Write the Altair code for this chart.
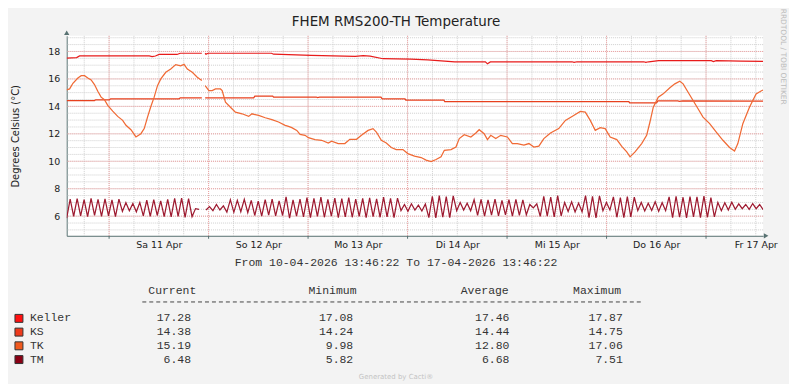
import altair as alt
import pandas as pd

# ---------------- texts ----------------
TITLE = "FHEM RMS200-TH Temperature"
Y_TITLE = "Degrees Celsius (°C)"
PERIOD = "From 10-04-2026 13:46:22 To 17-04-2026 13:46:22"
WATERMARK = "RRDTOOL / TOBI OETIKER"
FOOTER = "Generated by Cacti®"

SERIES = ["Keller", "KS", "TK", "TM"]
LINE_COLORS = ["#E81B1B", "#E8401E", "#F06A35", "#9E1A30"]
SWATCH_COLORS = ["#FF1010", "#EE3A1C", "#F05A1E", "#8A0014"]

HEADERS = ["Current", "Minimum", "Average", "Maximum"]
CURRENT = ["17.28", "14.38", "15.19", "6.48"]
MINIMUM = ["17.08", "14.24", "9.98", "5.82"]
AVERAGE = ["17.46", "14.44", "12.80", "6.68"]
MAXIMUM = ["17.87", "14.75", "17.06", "7.51"]

# x axis: hours since 10-04-2026 13:46:22 (7 days = 168 h)
DAY_LABELS = ["Sa 11 Apr", "So 12 Apr", "Mo 13 Apr", "Di 14 Apr", "Mi 15 Apr", "Do 16 Apr", "Fr 17 Apr"]
X_MAJOR = [10.227, 34.227, 58.227, 82.227, 106.227, 130.227, 154.227]          # midnights
X_LABEL_POS = [22.227, 46.227, 70.227, 94.227, 118.227, 142.227, 166.227]      # noons
X_MINOR = [4.227 + 6 * k for k in range(28)]                                  # every 6 h
Y_LABELS = [6, 8, 10, 12, 14, 16, 18]
Y_MINOR = [5 + 0.5 * k for k in range(29)]

# ---------------- series ----------------
KELLER_H = [0, 2.4, 3.1, 19.9, 20.6, 21.4, 22.3, 26.6, 27.4, 32.6, 33.0, 33.4, 33.6, 34.1, 49.4, 49.9,
            59.0, 69.6, 71.5, 73.2, 76.3, 83.0, 87.1, 93.6, 101.0, 101.5, 102.2, 121.9, 122.4, 123.1,
            139.2, 139.7, 140.4, 142.8, 155.5, 156.0, 156.7, 162.7, 168.0]
KELLER_V = [17.52, 17.55, 17.67, 17.67, 17.62, 17.67, 17.78, 17.78, 17.87, 17.87, None, 17.87, 17.80,
            17.87, 17.87, 17.80, 17.72, 17.64, 17.70, 17.66, 17.47, 17.45, 17.38, 17.25, 17.25, 17.10,
            17.24, 17.25, 17.20, 17.25, 17.25, 17.20, 17.25, 17.33, 17.33, 17.27, 17.33, 17.30, 17.28]

KS_H = [0, 6.7, 7.0, 10.3, 10.6, 27.1, 27.4, 32.6, 33.0, 33.4, 45.1, 45.4, 49.7, 49.9, 60.2, 60.5, 61.0,
        75.8, 76.1, 81.6, 81.8, 91.0, 91.2, 135.6, 135.8, 142.3, 142.6, 147.4, 147.8, 148.6, 168.0]
KS_V = [14.42, 14.42, 14.48, 14.48, 14.55, 14.55, 14.62, 14.62, None, 14.62, 14.62, 14.75, 14.75, 14.68,
        14.68, 14.64, 14.68, 14.68, 14.55, 14.55, 14.45, 14.45, 14.35, 14.35, 14.25, 14.25, 14.40, 14.40,
        14.36, 14.40, 14.38]

TK_H = [0, 0.7, 1.5, 2.7, 3.5, 4.3, 5.1, 5.9, 6.7, 7.5,
        8.3, 9.1, 9.9, 11.1, 12.3, 13.5, 14.3, 15.5, 16.7, 17.9,
        18.7, 19.5, 20.3, 21.1, 21.9, 22.7, 23.9, 25.1, 26.3, 27.5,
        28.3, 29.1, 30.3, 31.5, 32.6, 33.0, 33.4, 34.3, 35.1, 35.9,
        37.1, 37.5, 38.3, 39.5, 40.7, 42.3, 43.9, 44.7, 46.3, 47.9,
        49.5, 51.1, 52.7, 53.5, 54.3, 55.5, 56.3, 57.5, 58.3, 59.9,
        61.5, 63.1, 63.9, 65.5, 67.1, 68.3, 69.9, 71.1, 72.7, 73.9,
        74.7, 75.9, 77.1, 78.3, 79.5, 81.1, 82.3, 83.9, 85.5, 86.7,
        87.9, 89.1, 90.3, 91.1, 92.7, 93.9, 94.7, 95.9, 97.5, 98.7,
        99.5, 100.7, 101.5, 102.3, 103.5, 104.7, 106.3, 107.5, 108.7, 110.3,
        111.5, 112.7, 113.9, 115.1, 116.7, 118.7, 120.3, 122.3, 123.9, 125.1,
        126.3, 127.5, 128.7, 129.9, 131.1, 132.7, 133.9, 135.1, 135.9, 137.1,
        138.7, 139.9, 140.7, 141.5, 142.7, 143.9, 145.5, 146.7, 147.9, 148.7,
        149.9, 151.1, 152.3, 153.5, 155.1, 156.7, 158.3, 159.9, 161.1, 161.9,
        163.1, 164.7, 166.3, 167.5, 168.0]
TK_V = [15.20, 15.27, 15.68, 16.07, 16.24, 16.24, 16.07, 15.93, 15.59, 15.10,
        14.67, 14.48, 14.07, 13.65, 13.27, 12.98, 12.62, 12.30, 11.77, 12.01,
        12.38, 13.22, 13.99, 14.67, 15.51, 16.00, 16.48, 16.72, 17.04, 16.96,
        17.06, 16.72, 16.48, 16.12, 15.88, None, 15.51, 15.15, 15.15, 15.27,
        15.27, 15.15, 14.30, 13.94, 13.58, 13.46, 13.27, 13.46, 13.34, 13.17,
        13.03, 12.86, 12.62, 12.54, 12.45, 12.25, 11.96, 11.89, 11.72, 11.58,
        11.53, 11.33, 11.46, 11.29, 11.29, 11.60, 11.60, 11.89, 12.25, 12.38,
        12.13, 11.53, 11.33, 11.00, 10.85, 10.85, 10.56, 10.37, 10.27, 10.08,
        9.98, 10.13, 10.32, 10.80, 10.85, 11.04, 11.65, 11.94, 11.77, 12.06,
        12.30, 12.01, 11.58, 11.89, 11.65, 11.89, 11.77, 11.29, 11.29, 11.17,
        11.29, 11.04, 11.10, 11.65, 12.06, 12.38, 12.98, 13.34, 13.63, 13.58,
        12.98, 12.25, 12.45, 12.38, 11.77, 11.58, 11.09, 10.68, 10.32, 10.68,
        11.29, 11.89, 12.86, 13.94, 14.67, 14.91, 15.35, 15.64, 15.83, 15.64,
        15.03, 14.43, 13.83, 13.22, 12.74, 12.13, 11.53, 11.00, 10.75, 11.29,
        12.74, 13.94, 14.91, 15.12, 15.19]

# TM: samples every 0.84 h (alternating highs/lows of the heating cycle)
TM_STEP = 0.84
TM_V = [5.85, 7.25, 5.98, 7.28, 6.02, 7.2, 5.97, 7.3, 6.05, 7.22, 5.99, 7.26, 6.03, 7.18, 5.96, 7.24,
        6.35, 6.98, 6.4, 6.92, 6.32, 7.0,
        6.02, 7.16, 5.98, 7.2, 6.05, 7.12, 5.97, 7.22,
        5.95, 7.3, 5.98, 7.32, 5.92, 7.28, 5.96, 6.55, 6.5, None,
        6.45, 6.7, 6.4, 6.85, 6.45, 6.75,
        6.3, 7.2, 6.28, 7.15, 6.32, 7.22, 6.25,
        7.15, 6.05, 7.1, 6.0, 7.2, 6.08, 7.25, 6.02, 7.12, 6.05, 7.4, 5.85, 7.18, 6.0,
        7.25, 5.95, 7.35, 5.9, 7.3, 5.98, 7.38, 5.92, 7.22, 6.0, 7.32, 5.9, 7.28, 5.95, 7.36, 5.92,
        7.25, 5.98, 7.3, 5.9, 7.34, 5.96, 7.26, 5.92, 7.38, 5.95, 7.3, 5.9, 7.32,
        6.4, 6.85, 6.35, 6.9, 6.45, 6.8, 6.38, 6.88,
        5.9, 7.45, 5.88, 7.5, 5.92, 7.42, 5.9, 7.48,
        6.4, 7.0, 6.45, 6.95, 6.4,
        7.2, 6.05, 7.22, 6.0, 7.18, 6.08, 7.25, 6.02, 7.15, 6.1, 7.2, 6.0, 7.22, 6.05, 7.18, 6.1,
        6.85, 6.6, 6.9,
        5.98, 7.45, 6.0, 7.38, 5.95, 7.5, 6.02,
        7.0, 6.35, 7.05, 6.3, 6.95, 6.32,
        7.5, 5.9, 7.45, 5.88, 7.48,
        6.4, 7.0, 6.45,
        7.4, 5.92, 7.35, 5.9, 7.42, 5.95, 7.38,
        6.4, 7.0, 6.38, 6.95, 6.42, 7.05, 6.35, 6.98, 6.4,
        7.4, 5.9, 7.45, 5.92, 7.38, 5.88, 7.42, 5.95, 7.4, 5.9, 7.46, 5.92, 7.35, 5.95,
        7.0, 6.4, 6.98, 6.45, 7.02,
        6.5, 6.9, 6.55, 6.85, 6.5, 6.92, 6.55, 6.85, 6.48]
TM_H = [round(i * TM_STEP, 3) for i in range(len(TM_V))]

# ---------------- build table ----------------
rows = []
for name, hs, vs in [("Keller", KELLER_H, KELLER_V), ("KS", KS_H, KS_V),
                     ("TK", TK_H, TK_V), ("TM", TM_H, TM_V)]:
    seg = 0
    for h, v in zip(hs, vs):
        if v is None:
            seg += 1
            continue
        rows.append({"series": name, "seg": f"{name}-{seg}", "h": h, "v": v})
df = pd.DataFrame(rows)

# ---------------- style ----------------
AX = "#587272"
TXT = "#222222"
SANS = "DejaVu Sans"
MONO = "Liberation Mono"
W, H = 700, 201
xs = alt.Scale(domain=[0, 168], nice=False, zero=False)
ys = alt.Scale(domain=[4.57, 19.14], nice=False, zero=False)

label_expr = "[" + ",".join(f"'{d}'" for d in DAY_LABELS) + "][round((datum.value - 22.227) / 24)]"
X_AXIS = alt.Axis(
    values=X_LABEL_POS, labelExpr=label_expr, grid=False, ticks=False,
    domainColor=AX, domainWidth=1, labelFont=SANS, labelFontSize=9.5, labelColor=TXT,
    labelPadding=4, labelFlush=False, labelOverlap=False, title=None)
Y_AXIS = alt.Axis(
    values=Y_LABELS, format="d", grid=False, ticks=False, domainColor=AX, domainWidth=1,
    labelFont=SANS, labelFontSize=9.5, labelColor=TXT, labelPadding=7, title=None)


def vrule(vals, color):
    return alt.Chart(pd.DataFrame({"g": vals})).mark_rule(
        color=color, strokeWidth=1, strokeDash=[1, 1]
    ).encode(x=alt.X("g:Q", scale=xs, axis=X_AXIS))


def hrule(vals, color):
    return alt.Chart(pd.DataFrame({"g": vals})).mark_rule(
        color=color, strokeWidth=1, strokeDash=[1, 1]
    ).encode(y=alt.Y("g:Q", scale=ys, axis=Y_AXIS))


def txt(s, x, y, size, font=SANS, color=TXT, align="center", angle=0):
    return alt.Chart(pd.DataFrame({"t": [s]})).mark_text(
        font=font, fontSize=size, color=color, align=align, baseline="middle", angle=angle
    ).encode(text="t:N", x=alt.value(x), y=alt.value(y))


lines = alt.Chart(df).mark_line(clip=True).encode(
    x=alt.X("h:Q", scale=xs, axis=X_AXIS),
    y=alt.Y("v:Q", scale=ys, axis=Y_AXIS),
    color=alt.Color("series:N", scale=alt.Scale(domain=SERIES, range=LINE_COLORS), legend=None),
    strokeWidth=alt.StrokeWidth("series:N", scale=alt.Scale(domain=SERIES, range=[1.25, 1.25, 1.2, 1.1]),
                                legend=None),
    detail="seg:N",
    order="h:Q",
)

major_ticks = alt.Chart(pd.DataFrame({"g": X_MAJOR})).mark_rule(color=AX, strokeWidth=1).encode(
    x=alt.X("g:Q", scale=xs, axis=X_AXIS), y=alt.value(H), y2=alt.value(H + 3))

y_arrow = alt.Chart(pd.DataFrame({"ax": [0], "ay": [19.14]})).mark_point(
    shape="triangle-up", filled=True, size=28, color=AX, opacity=1, yOffset=-3
).encode(x=alt.X("ax:Q", scale=xs, axis=X_AXIS), y=alt.Y("ay:Q", scale=ys, axis=Y_AXIS))
x_arrow = alt.Chart(pd.DataFrame({"ax": [168], "ay": [4.57]})).mark_point(
    shape="triangle-right", filled=True, size=28, color=AX, opacity=1, xOffset=3
).encode(x=alt.X("ax:Q", scale=xs, axis=X_AXIS), y=alt.Y("ay:Q", scale=ys, axis=Y_AXIS))

layers = [
    vrule(X_MINOR, "#CFCFCF"),
    hrule(Y_MINOR, "#CFCFCF"),
    vrule(X_MAJOR, "#EFA0A0"),
    hrule(Y_LABELS, "#EFA0A0"),
    lines,
    major_ticks,
    y_arrow,
    x_arrow,
    txt(TITLE, 331, -14, 13.5),
    txt(Y_TITLE, -51, 101, 10, angle=270),
    txt(WATERMARK, 720, 21, 7.5, color="#BBBBBB", angle=90),
    txt(PERIOD, 331, 228, 11.5, font=MONO, color="#333333"),
    txt(FOOTER, 331, 343, 7, color="#C4C4C4"),
]

# legend / statistics table
MONO_SIZE = 11.5
header_x = [82, 243, 396, 509]
for hx, head in zip(header_x, HEADERS):
    layers.append(txt(head, hx, 256, MONO_SIZE, font=MONO, color="#333333", align="left"))
layers.append(
    alt.Chart(pd.DataFrame({"d": [0]})).mark_rule(color="#444444", strokeWidth=1, strokeDash=[4, 3]).encode(
        x=alt.value(76), x2=alt.value(580), y=alt.value(267.5))
)

row_y = [284, 297.8, 311.6, 325.4]
value_x = [125, 288, 445, 559]
for i, name in enumerate(SERIES):
    y = row_y[i]
    layers.append(
        alt.Chart(pd.DataFrame({"s": [name]})).mark_square(
            size=64, color=SWATCH_COLORS[i], stroke="#333333", strokeWidth=1, opacity=1
        ).encode(x=alt.value(-48), y=alt.value(y))
    )
    layers.append(txt(name, -37, y, MONO_SIZE, font=MONO, color="#333333", align="left"))
    for vx, col in zip(value_x, [CURRENT, MINIMUM, AVERAGE, MAXIMUM]):
        layers.append(txt(col[i], vx, y, MONO_SIZE, font=MONO, color="#333333", align="right"))

chart = alt.layer(*layers).properties(
    width=W, height=H,
    background="#F3F3F3",
    autosize=alt.AutoSizeParams(type="none"),
    padding={"left": 59, "top": 27, "right": 26, "bottom": 148},
).configure_view(fill="white", stroke=None)

chart.save("out.html", embed_options={"renderer": "svg", "actions": False})
